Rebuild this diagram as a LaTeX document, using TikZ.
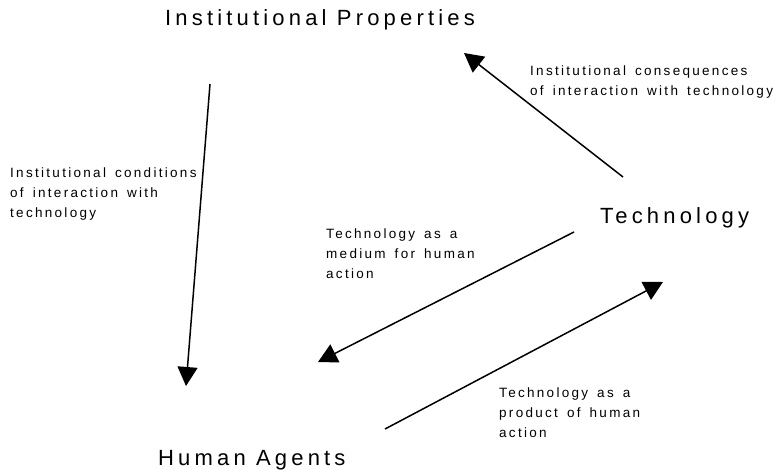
\documentclass[tikz,border=0pt]{standalone}
\usepackage{fontspec}
\setmainfont{Liberation Sans}
\newfontfamily\headfont[LetterSpace=19]{Liberation Sans}
\newfontfamily\notefont[LetterSpace=17, WordSpace=1.5]{Liberation Sans}
\usetikzlibrary{arrows.meta}
\begin{document}
\begin{tikzpicture}[x=1pt, y=-1pt, >={Triangle[length=19pt, width=20pt]}, head/.style={inner sep=0, anchor=base west, font=\headfont\fontsize{22}{26}\selectfont}, note/.style={inner sep=0, anchor=base west, align=left, font=\notefont\fontsize{13.5}{20}\selectfont}, link/.style={->, line width=1.5pt}]
\useasboundingbox (0,0) rectangle (778,470);
\node[head] (props) at (165,26) {Institutional Properties};
\node[head] (tech) at (600,223) {Technology};
\node[head] (agents) at (158,465) {Human Agents};
% notes are placed by the baseline of their last line
\node[note] (conds) at (10,218) {Institutional conditions\\of interaction with\\technology};
\node[note] (conseq) at (530,96) {Institutional consequences\\of interaction with technology};
\node[note] (medium) at (326,278) {Technology as a\\medium for human\\action};
\node[note] (product) at (499,437) {Technology as a\\product of human\\action};
% arrow ends sit apart from the labels
\coordinate (props-out) at (210,84);
\coordinate (agents-in) at (186,386);
\coordinate (tech-up) at (623,177);
\coordinate (props-in) at (464,53);
\coordinate (tech-down) at (574,232);
\coordinate (agents-left) at (318,362);
\coordinate (agents-out) at (385,429);
\coordinate (tech-in) at (663,282);
\draw[link] (props-out) -- (agents-in);
\draw[link] (tech-up) -- (props-in);
\draw[link] (tech-down) -- (agents-left);
\draw[link] (agents-out) -- (tech-in);
\end{tikzpicture}
\end{document}
